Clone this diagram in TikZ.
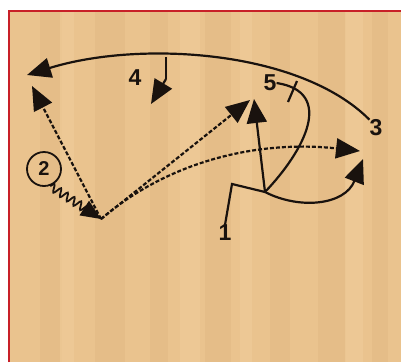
\documentclass[tikz,border=0pt]{standalone}
\usepackage{fontspec}
\setsansfont{Liberation Sans}
\usepackage{tikz}
\usetikzlibrary{arrows.meta,decorations.pathmorphing}

\definecolor{wood}{RGB}{234,195,142}
\definecolor{woodd}{RGB}{226,185,132}
\definecolor{woodl}{RGB}{240,204,154}
\definecolor{frame}{RGB}{200,32,40}
\definecolor{ink}{RGB}{25,18,14}

\begin{document}
\begin{tikzpicture}[x=1pt,y=-1pt, num/.style={font=\sffamily\bfseries\fontsize{23}{23}\selectfont,text=ink,inner sep=0pt}, cut/.style={draw=ink,line width=2.2pt,-{Triangle[length=24pt,width=20pt]}}, pass/.style={cut,dash pattern=on 4pt off 2pt}, drib/.style={draw=ink,line width=1.8pt,decorate,decoration={snake,amplitude=4pt,segment length=8pt,post length=12pt},-{Triangle[length=20pt,width=17pt]}}, screen/.style={draw=ink,line width=2.2pt}]
% court
\useasboundingbox (0,0) rectangle (401,362);
\fill[white] (0,0) rectangle (401,362);
\fill[wood] (9,11) rectangle (401,362);
\foreach \x/\w in {40/22,95/30,150/18,205/26,270/20,318/28,372/16}
  \fill[woodd,opacity=.5] (\x,11) rectangle (\x+\w,362);
\foreach \x/\w in {60/14,180/20,240/12,345/18}
  \fill[woodl,opacity=.6] (\x,11) rectangle (\x+\w,362);
\draw[frame,line width=2.5pt] (9,362) -- (9,11) -- (401,11);

% players
\node[num] (p1) at (225,233) {1};
\node[num,draw=ink,circle,line width=1.8pt,minimum size=34pt,font=\sffamily\bfseries\fontsize{20}{20}\selectfont] (p2) at (44,169) {2};
\node[num] (p3) at (376,128) {3};
\node[num] (p4) at (135,78) {4};
\node[num] (p5) at (270,83) {5};

% spots
\coordinate (drb) at (101,219);
\coordinate (wing) at (27,75);
\coordinate (wingb) at (32,86);
\coordinate (elb) at (250,100);
\coordinate (elbb) at (254,99);
\coordinate (cnr) at (360,151);
\coordinate (cnrb) at (363,159);
\coordinate (turn) at (232,184);
\coordinate (post) at (265,192);
\coordinate (top4) at (166,57);
\coordinate (mid4) at (166,79);
\coordinate (end4) at (151,104);

% 2 dribbles and passes
\draw[drib] (p2.290) -- (drb);
\draw[pass] (drb) -- (wingb);
\draw[pass] (drb) -- (elb);
\draw[pass] (drb) .. controls (170,160) and (260,140) .. (cnr);

% 3 cuts over the top
\draw[cut] (p3.north west) .. controls (300,50) and (140,40) .. (wing);
\draw[screen] (top4) -- (mid4);
\draw[cut] (mid4) -- (end4);

% 1 and 5
\draw[screen] (p1.north) -- (turn) -- (post);
\draw[cut] (post) .. controls (300,210) and (345,205) .. (cnrb);
\draw[cut] (post) -- (elbb);
\draw[screen] (post) .. controls (305,150) and (335,92) .. (p5.east);
\draw[screen] (297,81) -- (288,102);
\end{tikzpicture}
\end{document}
